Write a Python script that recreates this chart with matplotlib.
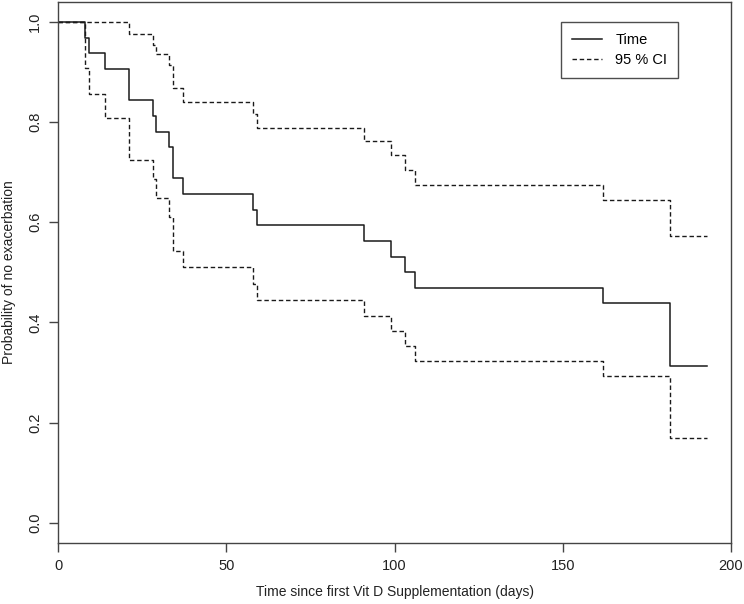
import matplotlib
matplotlib.use("Agg")
import matplotlib.pyplot as plt

# Kaplan-Meier estimate (days, probability)
times = [0, 8, 9, 14, 21, 28, 29, 33, 34, 37, 58, 59, 91, 99, 103, 106, 162, 182, 193]
surv = [1.0, 0.969, 0.938, 0.906, 0.844, 0.813, 0.781, 0.75, 0.688, 0.656,
        0.625, 0.594, 0.563, 0.531, 0.5, 0.469, 0.438, 0.313, 0.313]
upper = [1.0, 1.0, 1.0, 1.0, 0.977, 0.955, 0.937, 0.915, 0.868, 0.841,
         0.816, 0.789, 0.762, 0.734, 0.705, 0.675, 0.645, 0.573, 0.573]
lower = [1.0, 0.909, 0.856, 0.808, 0.725, 0.686, 0.649, 0.611, 0.543, 0.51,
         0.476, 0.445, 0.413, 0.382, 0.352, 0.323, 0.293, 0.169, 0.169]

x_ticks = [0, 50, 100, 150, 200]
y_ticks = [0.0, 0.2, 0.4, 0.6, 0.8, 1.0]

plt.rcParams["font.family"] = ["Liberation Sans", "DejaVu Sans"]
line_col = "#1a1a1a"
axis_col = "#444444"

fig = plt.figure(figsize=(7.44, 6.04), dpi=100)
ax = fig.add_axes([0.0784, 0.1015, 0.9041, 0.8952])

ax.step(times, surv, where="post", color=line_col, lw=1.1, label="Time")
ax.step(times, upper, where="post", color=line_col, lw=1.0,
        dashes=(3.2, 2.0), label="95 % CI")
ax.step(times, lower, where="post", color=line_col, lw=1.0, dashes=(3.2, 2.0))

ax.set_xlim(0, 200)
ax.set_ylim(-0.04, 1.04)
ax.set_xticks(x_ticks)
ax.set_xticklabels([str(v) for v in x_ticks])
ax.set_yticks(y_ticks)
ax.set_yticklabels([f"{v:.1f}" for v in y_ticks], rotation=90, va="center")

for sp in ax.spines.values():
    sp.set_color(axis_col)
    sp.set_linewidth(1.0)
ax.tick_params(axis="both", direction="out", length=6.5, width=1.0,
               color=axis_col, labelsize=10.5, labelcolor="#222222")
ax.tick_params(axis="x", pad=5)
ax.tick_params(axis="y", pad=5)

ax.set_xlabel("Time since first Vit D Supplementation (days)", fontsize=10,
              color="#222222", labelpad=9)
ax.set_ylabel("Probability of no exacerbation", fontsize=10,
              color="#222222", labelpad=9)

leg = ax.legend(loc="upper left", bbox_to_anchor=(0.747, 0.963),
                fontsize=10.5, frameon=True, fancybox=False,
                handlelength=2.05, handletextpad=0.95, borderpad=0.75,
                labelspacing=0.45, borderaxespad=0)
leg.get_frame().set_edgecolor("#222222")
leg.get_frame().set_linewidth(1.0)

fig.savefig("out.png", dpi=100)
